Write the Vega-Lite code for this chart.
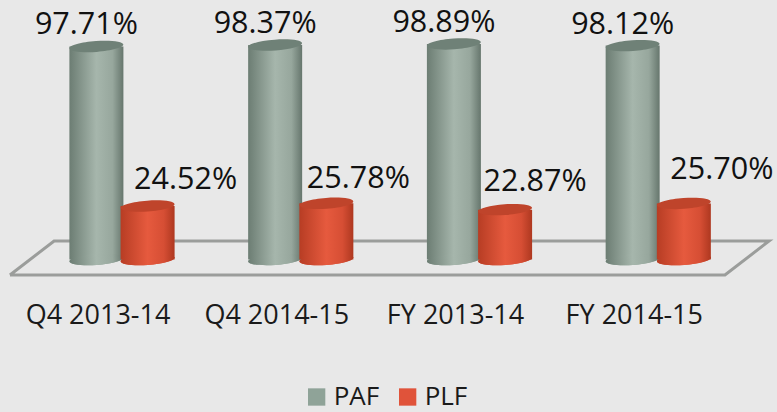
{
"$schema":"https://vega.github.io/schema/vega-lite/v6.json",
"width":715,"height":290,"autosize":"none",
"padding":{"left":32.65,"top":0,"right":29.35,"bottom":122},
"background":"#e8e8e8",
"config":{"view":{"stroke":null},"font":"Open Sans"},
"datasets":{
"d":[
{"period":"Q4 2013-14","series":"PAF","value":97.71,"label":"97.71%"},
{"period":"Q4 2013-14","series":"PLF","value":24.52,"label":"24.52%"},
{"period":"Q4 2014-15","series":"PAF","value":98.37,"label":"98.37%"},
{"period":"Q4 2014-15","series":"PLF","value":25.78,"label":"25.78%"},
{"period":"FY 2013-14","series":"PAF","value":98.89,"label":"98.89%"},
{"period":"FY 2013-14","series":"PLF","value":22.87,"label":"22.87%"},
{"period":"FY 2014-15","series":"PAF","value":98.12,"label":"98.12%"},
{"period":"FY 2014-15","series":"PLF","value":25.70,"label":"25.70%"}
],
"floor":[
{"i":0,"fx":-0.127,"fy":-7.11},
{"i":1,"fx":0.12,"fy":8.49},
{"i":2,"fx":4.12,"fy":8.49},
{"i":3,"fx":3.873,"fy":-7.11},
{"i":4,"fx":-0.127,"fy":-7.11}
]},
"layer":[
{"data":{"name":"floor"},
 "mark":{"type":"line","stroke":"#9b9d9b","strokeWidth":3,"clip":false,"strokeJoin":"miter"},
 "encoding":{
  "x":{"field":"fx","type":"quantitative","axis":null,"scale":{"domain":[0,4],"nice":false,"zero":false}},
  "y":{"field":"fy","type":"quantitative","axis":null,"scale":{"domain":[-13.99,119.04],"nice":false,"zero":false}},
  "order":{"field":"i"}}},
{"data":{"name":"d"},
 "encoding":{
  "x":{"field":"period","type":"nominal","sort":null,"scale":{"paddingInner":0,"paddingOuter":0},
   "axis":{"title":null,"domain":false,"ticks":false,"grid":false,"labelAngle":0,"labelFontSize":27,"labelColor":"#1a1a1a","labelPadding":12,"labelOffset":-24,"labelFont":"Open Sans"}},
  "xOffset":{"field":"series","type":"nominal","scale":{"domain":["PAF","PLF"],"range":[38.15,140.55],"paddingInner":0,"paddingOuter":0}},
  "y":{"field":"value","type":"quantitative","axis":null,"scale":{"domain":[-13.99,119.04],"nice":false,"zero":false}}
 },
 "layer":[
 {"mark":{"type":"point","filled":true,"opacity":1,"size":2916,"angle":-4,"shape":"M -1 0 A 1 0.2 0 1 1 1 0 A 1 0.2 0 1 1 -1 0 Z"},
  "encoding":{"y":{"datum":0},
   "color":{"field":"series","type":"nominal","scale":{"domain":["PAF","PLF"],"range":["#8fa398","#e0533a"]},
    "legend":{"title":null,"orient":"none","legendX":271,"legendY":384,"direction":"horizontal","columns":2,"symbolType":"square","symbolSize":300,"labelFontSize":26,"labelColor":"#1a1a1a","labelFont":"Open Sans","columnPadding":15,"labelOffset":4,"symbolStrokeWidth":0,"symbolOpacity":1}}}},
 {"transform":[{"filter":"datum.series==='PAF'"}],
  "mark":{"type":"bar","width":54,"fill":{"gradient":"linear","x1":0,"x2":1,"y1":0,"y2":0,"stops":[{"offset":0,"color":"#6c7d73"},{"offset":0.5,"color":"#a6b6ac"},{"offset":0.8,"color":"#97a79d"},{"offset":1,"color":"#66766d"}]}},
  "encoding":{"y2":{"datum":0}}},
 {"transform":[{"filter":"datum.series==='PAF'"}],
  "mark":{"type":"point","filled":true,"opacity":1,"fill":{"gradient":"linear","x1":0,"x2":1,"y1":0,"y2":0,"stops":[{"offset":0,"color":"#6c7d73"},{"offset":0.5,"color":"#a6b6ac"},{"offset":0.8,"color":"#97a79d"},{"offset":1,"color":"#66766d"}]},"size":2916,"angle":-4,"shape":"M -1 0 A 1 0.2 0 1 1 1 0 A 1 0.2 0 1 1 -1 0 Z"},
  "encoding":{"y":{"datum":0}}},
 {"transform":[{"filter":"datum.series==='PAF'"}],
  "mark":{"type":"point","filled":true,"opacity":1,"fill":"#6f8177","size":2916,"angle":-4,"shape":"M -1 0 A 1 0.2 0 1 1 1 0 A 1 0.2 0 1 1 -1 0 Z"}},
 {"transform":[{"filter":"datum.series==='PLF'"}],
  "mark":{"type":"point","filled":true,"opacity":1,"fill":{"gradient":"linear","x1":0,"x2":1,"y1":0,"y2":0,"stops":[{"offset":0,"color":"#b73d24"},{"offset":0.5,"color":"#e65a3e"},{"offset":0.8,"color":"#d64e34"},{"offset":1,"color":"#ae3820"}]},"size":2916,"angle":-4,"shape":"M -1 0 A 1 0.2 0 1 1 1 0 A 1 0.2 0 1 1 -1 0 Z"},
  "encoding":{"y":{"datum":0}}},
 {"transform":[{"filter":"datum.series==='PLF'"}],
  "mark":{"type":"bar","width":54,"fill":{"gradient":"linear","x1":0,"x2":1,"y1":0,"y2":0,"stops":[{"offset":0,"color":"#b73d24"},{"offset":0.5,"color":"#e65a3e"},{"offset":0.8,"color":"#d64e34"},{"offset":1,"color":"#ae3820"}]}},
  "encoding":{"y2":{"datum":0}}},
 {"transform":[{"filter":"datum.series==='PLF'"}],
  "mark":{"type":"point","filled":true,"opacity":1,"fill":"#bf442b","size":2916,"angle":-4,"shape":"M -1 0 A 1 0.2 0 1 1 1 0 A 1 0.2 0 1 1 -1 0 Z"}},
 {"transform":[{"filter":"datum.series==='PAF'"}],
  "mark":{"type":"text","fontSize":30.5,"color":"#111111","dx":-10,"dy":-21},
  "encoding":{"text":{"field":"label"}}},
 {"transform":[{"filter":"datum.label==='24.52%'"}],
  "mark":{"type":"text","fontSize":30.5,"color":"#111111","dx":38,"dy":-26},
  "encoding":{"text":{"field":"label"}}},
 {"transform":[{"filter":"datum.label==='25.78%'"}],
  "mark":{"type":"text","fontSize":30.5,"color":"#111111","dx":32,"dy":-24},
  "encoding":{"text":{"field":"label"}}},
 {"transform":[{"filter":"datum.label==='22.87%'"}],
  "mark":{"type":"text","fontSize":30.5,"color":"#111111","dx":30,"dy":-28},
  "encoding":{"text":{"field":"label"}}},
 {"transform":[{"filter":"datum.label==='25.70%'"}],
  "mark":{"type":"text","fontSize":30.5,"color":"#111111","dx":38,"dy":-33},
  "encoding":{"text":{"field":"label"}}}
 ]}
],
"resolve":{"scale":{"x":"independent"},"axis":{"x":"independent"}}
}
